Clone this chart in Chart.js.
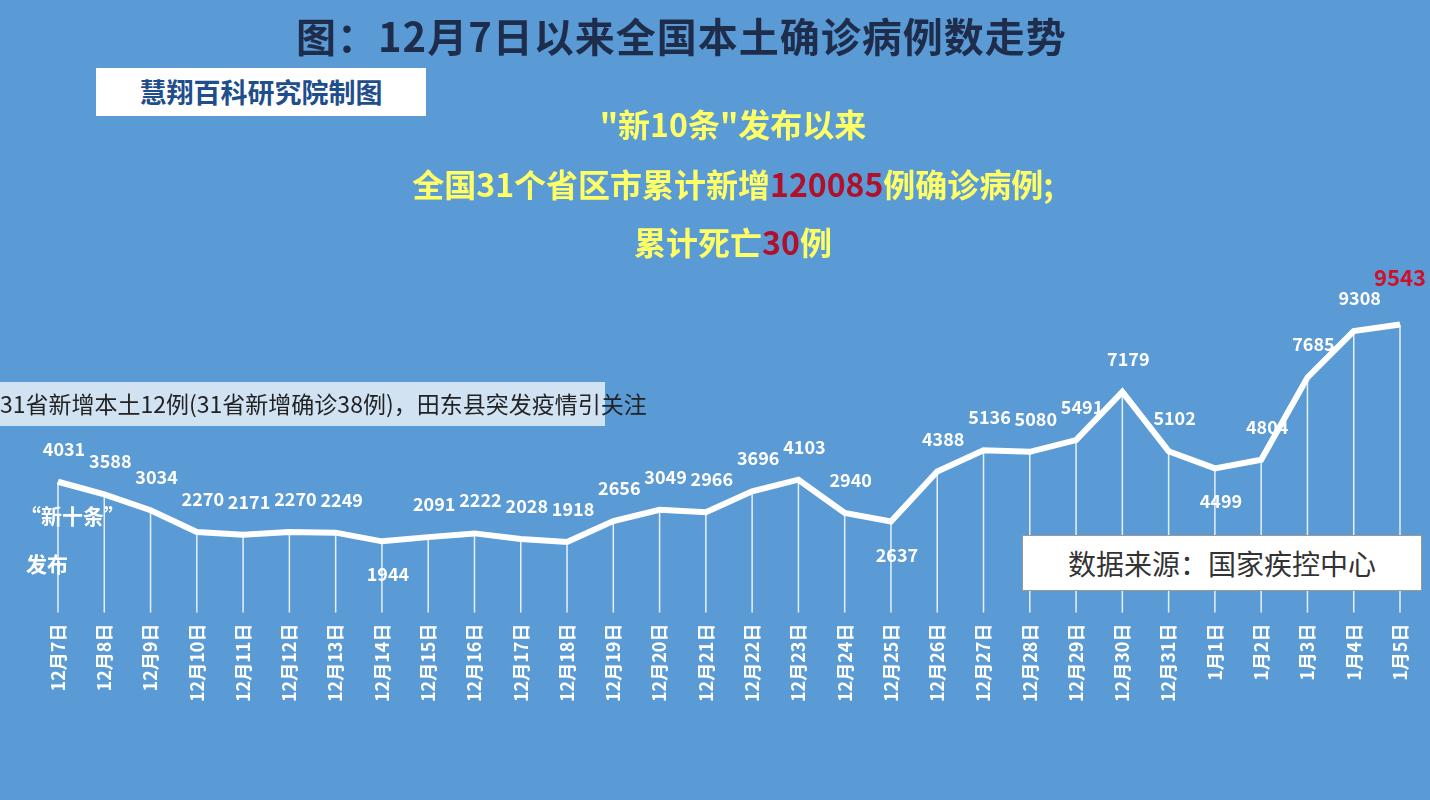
<!DOCTYPE html>
<html><head><meta charset="utf-8">
<script src="https://cdn.jsdelivr.net/npm/chart.js@4"></script>
<style>
body{margin:0;width:1430px;height:800px;background:#5b9bd5;overflow:hidden;position:relative;font-family:"Noto Sans CJK SC",sans-serif}
#c{position:absolute;left:0;top:0}
.t{position:absolute;font-weight:bold;white-space:nowrap}
</style></head><body>
<canvas id="c" width="1430" height="800"></canvas>
<div class="t" style="left:296px;top:6px;font-size:40px;color:#1f2d4d;letter-spacing:1px">图：12月7日以来全国本土确诊病例数走势</div>
<div class="t" style="left:96px;top:68px;width:330px;height:48px;background:#fff;color:#1f4e8c;font-size:27px;line-height:48px;text-align:center">慧翔百科研究院制图</div>
<div class="t" style="left:0;width:1466px;top:100px;text-align:center;font-size:32px;color:#ffff66">"新10条"发布以来</div>
<div class="t" style="left:0;width:1466px;top:160px;text-align:center;font-size:32px;color:#ffff66">全国31个省区市累计新增<span style="color:#b0102a">120085</span>例确诊病例;</div>
<div class="t" style="left:0;width:1466px;top:218px;text-align:center;font-size:32px;color:#ffff66">累计死亡<span style="color:#b0102a">30</span>例</div>
<div class="t" style="left:20px;top:500px;font-size:21px;color:#fff">“新十条”</div>
<div class="t" style="left:26px;top:548px;font-size:21px;color:#fff">发布</div>
<div class="t" style="left:1022px;top:535px;width:398px;height:54px;background:#fff;border:1px solid #999;color:#333;font-weight:normal;font-size:28px;line-height:54px;text-align:center">数据来源：国家疾控中心</div>
<div class="t" style="left:0;top:382px;width:605px;height:44px;background:rgba(255,255,255,0.72);color:#222;font-weight:normal;font-size:23px;line-height:42px">31省新增本土12例(31省新增确诊38例)，田东县突发疫情引关注</div>
<script>
const days = ['12月7日','12月8日','12月9日','12月10日','12月11日','12月12日','12月13日','12月14日','12月15日','12月16日','12月17日','12月18日','12月19日','12月20日','12月21日','12月22日','12月23日','12月24日','12月25日','12月26日','12月27日','12月28日','12月29日','12月30日','12月31日','1月1日','1月2日','1月3日','1月4日','1月5日'];
const cases = [4031,3588,3034,2270,2171,2270,2249,1944,2091,2222,2028,1918,2656,3049,2966,3696,4103,2940,2637,4388,5136,5080,5491,7179,5102,4499,4804,7685,9308,9543];
const belowIdx = [7,18,25];

const dropLines = {
  id: 'drop',
  beforeDatasetsDraw(chart) {
    const ctx = chart.ctx, meta = chart.getDatasetMeta(0), b = chart.chartArea.bottom;
    ctx.save(); ctx.strokeStyle = 'rgba(255,255,255,0.85)'; ctx.lineWidth = 1.5;
    meta.data.forEach(p => { ctx.beginPath(); ctx.moveTo(p.x, p.y); ctx.lineTo(p.x, b); ctx.stroke(); });
    ctx.restore();
  },
  afterDatasetsDraw(chart) {
    const ctx = chart.ctx, meta = chart.getDatasetMeta(0);
    ctx.save(); ctx.font = 'bold 18px "Noto Sans CJK SC"'; ctx.textAlign = 'center';
    meta.data.forEach((p, i) => {
      const last = i === cases.length - 1;
      ctx.fillStyle = last ? '#d0102a' : '#fff';
      if (last) {
        ctx.font = 'bold 22px "Noto Sans CJK SC"';
        ctx.fillText(cases[i], p.x, p.y - 38);
        return;
      }
      const y = belowIdx.includes(i) ? p.y + 40 : p.y - 26;
      ctx.fillText(cases[i], p.x + 6, y);
    });
    ctx.restore();
  }
};

new Chart(document.getElementById('c'), {
  type: 'line',
  data: { labels: days, datasets: [{ data: cases, borderColor: '#fff', borderWidth: 6, pointRadius: 0, tension: 0, fill: false }] },
  options: {
    responsive: false, animation: false,
    layout: { padding: { left: 58, right: 30, top: 260, bottom: 95 } },
    plugins: { legend: { display: false }, tooltip: { enabled: false } },
    scales: {
      x: { offset: false, grid: { display: false }, border: { display: false },
           ticks: { color: '#fff', maxRotation: 90, minRotation: 90, autoSkip: false, font: { size: 18, weight: 'bold', family: 'Noto Sans CJK SC' } } },
      y: { display: false, min: -550, max: 11800 }
    }
  },
  plugins: [dropLines]
});
</script>
</body></html>
